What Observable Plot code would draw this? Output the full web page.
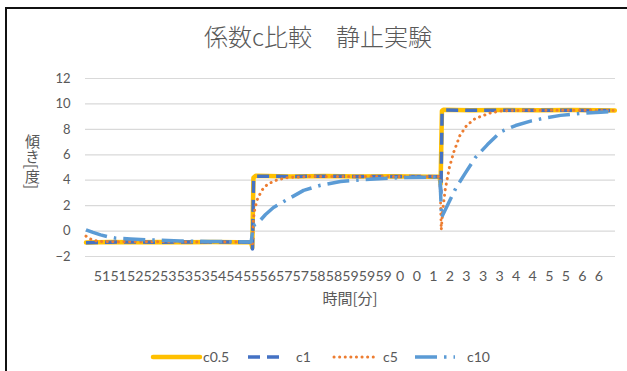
<!DOCTYPE html>
<html>
<head>
<meta charset="utf-8">
<script src="https://cdn.jsdelivr.net/npm/d3@7"></script>
<script src="https://cdn.jsdelivr.net/npm/@observablehq/plot@0.6"></script>
<style>
  html, body { margin: 0; padding: 0; background: #fff; }
  #wrap { position: relative; width: 627px; height: 371px; overflow: hidden; background: #fff; font-family: Lato, "Noto Sans CJK JP", sans-serif; color: #595959; }
  #frame { position: absolute; left: 5px; top: 7px; width: 640px; height: 400px; border-left: 2px solid #111; border-top: 2px solid #111; box-sizing: border-box; }
  #title { position: absolute; left: 5px; width: 626px; top: 22px; text-align: center; font-family: "Noto Sans CJK JP", sans-serif; font-weight: 300; font-size: 24px; line-height: 28px; color: #595959; }
  #ylab { position: absolute; left: 24px; top: 134px; writing-mode: vertical-rl; text-orientation: mixed; font-family: "Noto Sans CJK JP", sans-serif; font-size: 15px; line-height: 16px; color: #595959; white-space: nowrap; }
  #xlab { position: absolute; left: 85px; width: 530px; top: 289px; text-align: center; font-family: "Noto Sans CJK JP", sans-serif; font-size: 15px; line-height: 18px; color: #595959; }
  #chart { position: absolute; left: 0; top: 0; }
  #legend { position: absolute; left: 0; top: 345px; }
</style>
</head>
<body>
<div id="wrap">
  <div id="chart"></div>
  <div id="frame"></div>
  <div id="title">係数c比較　静止実験</div>
  <div id="ylab">傾き[度]</div>
  <div id="xlab">時間[分]</div>
  <svg id="legend" width="627" height="24"></svg>
</div>
<script>
// Category tick labels (minutes) and their sample positions
const tickLabels = ["51","51","52","52","53","53","53","54","54","55","56","57","57","58","58","59","59","59","0","0","1","2","3","3","3","4","4","5","5","6","6"];
const tickSamples = [10,20,30,40,50,60,70,80,90,100,110,120,130,140,150,160,170,180,190,200,210,220,230,240,250,260,270,280,290,300,310];
const yTicks = [-2,0,2,4,6,8,10,12];

const seriesNames = ["c0.5","c1","c5","c10"];

// c0.5
const c05Sample = [0.3,14.8,30.3,45.9,61.4,76.9,92.4,100.0,100.7,101.4,102.8,123.5,144.2,164.9,185.6,206.3,213.8,214.4,215.2,216.1,232.2,252.9,273.6,294.2,309.8,319.6];
const c05Value  = [-0.9,-0.86,-0.88,-0.85,-0.88,-0.86,-0.87,-0.88,-1.3,4.2,4.35,4.3,4.33,4.3,4.32,4.28,4.28,3.7,9.45,9.55,9.5,9.53,9.5,9.52,9.5,9.48];
// c1
const c1Sample = [0.3,14.8,30.3,45.9,61.4,76.9,92.4,100.1,100.8,101.5,102.8,123.5,144.2,164.9,185.6,206.3,213.9,214.6,215.3,216.1,232.2,252.9,273.6,294.2,309.8,319.6];
const c1Value  = [-0.92,-0.87,-0.86,-0.88,-0.85,-0.87,-0.86,-0.88,-1.4,4.15,4.32,4.3,4.31,4.3,4.29,4.3,4.27,3.0,9.4,9.52,9.5,9.5,9.51,9.5,9.49,9.48];
// c5
const c5Sample = [0.3,2.4,5.5,9.6,20.0,40.7,61.4,82.1,100.1,100.8,101.4,102.3,103.8,106.4,110.0,115.2,121.4,130.7,144.2,164.9,185.6,206.3,214.0,214.8,215.6,217.1,219.7,222.3,226.0,230.1,235.3,244.6,250.8,263.2,278.7,299.4,319.6];
const c5Value   = [-0.4,-0.6,-0.75,-0.82,-0.85,-0.84,-0.86,-0.85,-0.86,-1.2,1.0,1.8,2.5,3.2,3.7,4.0,4.2,4.28,4.3,4.3,4.3,4.3,4.28,0.1,1.5,3.2,5.0,6.2,7.5,8.3,8.85,9.3,9.45,9.5,9.5,9.5,9.48];
// c10
const c10Sample = [0.3,4.5,9.1,13.8,17.9,27.2,39.2,57.2,75.5,100.0,101.4,103.8,108.7,113.5,120.8,131.7,141.9,154.0,167.3,190.2,214.0,215.0,219.2,223.5,229.5,235.5,242.7,250.6,259.7,268.7,277.8,286.8,298.9,311.0,318.9];
const c10Value  = [0.1,-0.1,-0.3,-0.45,-0.55,-0.62,-0.7,-0.78,-0.82,-0.85,0.44,0.6,1.3,1.85,2.4,3.2,3.6,3.9,4.05,4.2,4.25,1.07,2.2,3.35,4.6,5.8,6.8,7.8,8.3,8.65,8.9,9.1,9.25,9.35,9.4];

const colors = {"c0.5": "#FFC000", "c1": "#4472C4", "c5": "#ED7D31", "c10": "#5B9BD5"};
const styles = {
  "c0.5": {strokeWidth: 4.5, strokeDasharray: null, strokeLinecap: "round"},
  "c1":   {strokeWidth: 3.5, strokeDasharray: "12,7", strokeLinecap: "butt"},
  "c5":   {strokeWidth: 3, strokeDasharray: "0.1,5.5", strokeLinecap: "round"},
  "c10":  {strokeWidth: 3.5, strokeDasharray: "22,7,2.5,7", strokeLinecap: "butt"}
};

const toRows = (s, v) => s.map((x, i) => ({s: x, v: v[i]}));
const rows = {
  "c0.5": toRows(c05Sample, c05Value),
  "c1": toRows(c1Sample, c1Value),
  "c5": toRows(c5Sample, c5Value),
  "c10": toRows(c10Sample, c10Value)
};

const lineMarks = seriesNames.map(name => Plot.line(rows[name], {
  x: "s", y: "v",
  stroke: colors[name],
  strokeWidth: styles[name].strokeWidth,
  strokeDasharray: styles[name].strokeDasharray,
  strokeLinecap: styles[name].strokeLinecap,
  strokeLinejoin: "round"
}));

const chart = Plot.plot({
  width: 627,
  height: 371,
  marginLeft: 85,
  marginRight: 12,
  marginTop: 78,
  marginBottom: 115,
  style: {background: "transparent", color: "#595959", fontFamily: "Lato, sans-serif"},
  x: {domain: [0, 320]},
  y: {domain: [-2, 12]},
  marks: [
    Plot.ruleY(yTicks, {stroke: "#d9d9d9", strokeWidth: 1.2}),
    Plot.axisY({ticks: yTicks, tickSize: 0, tickPadding: 15, label: null, fontSize: 13}),
    Plot.axisX({ticks: tickSamples, tickFormat: (d) => tickLabels[tickSamples.indexOf(d)], tickSize: 0, tickPadding: 14, label: null, fontSize: 14.2}),
    ...lineMarks
  ]
});
document.getElementById("chart").appendChild(chart);

// Legend
const legend = d3.select("#legend");
const legendItems = [
  {name: "c0.5", x1: 153, x2: 200, tx: 203},
  {name: "c1", x1: 248, x2: 286, tx: 296},
  {name: "c5", x1: 334, x2: 376, tx: 383},
  {name: "c10", x1: 415, x2: 455, tx: 467}
];
legendItems.forEach(it => {
  const st = styles[it.name];
  legend.append("line")
    .attr("x1", it.x1).attr("x2", it.x2).attr("y1", 12).attr("y2", 12)
    .attr("stroke", colors[it.name])
    .attr("stroke-width", st.strokeWidth)
    .attr("stroke-linecap", st.strokeLinecap)
    .attr("stroke-dasharray", st.strokeDasharray);
  legend.append("text")
    .attr("x", it.tx).attr("y", 12).attr("dy", "0.35em")
    .attr("fill", "#595959")
    .attr("font-family", "Lato, sans-serif")
    .attr("font-size", 14)
    .text(it.name);
});
</script>
</body>
</html>
